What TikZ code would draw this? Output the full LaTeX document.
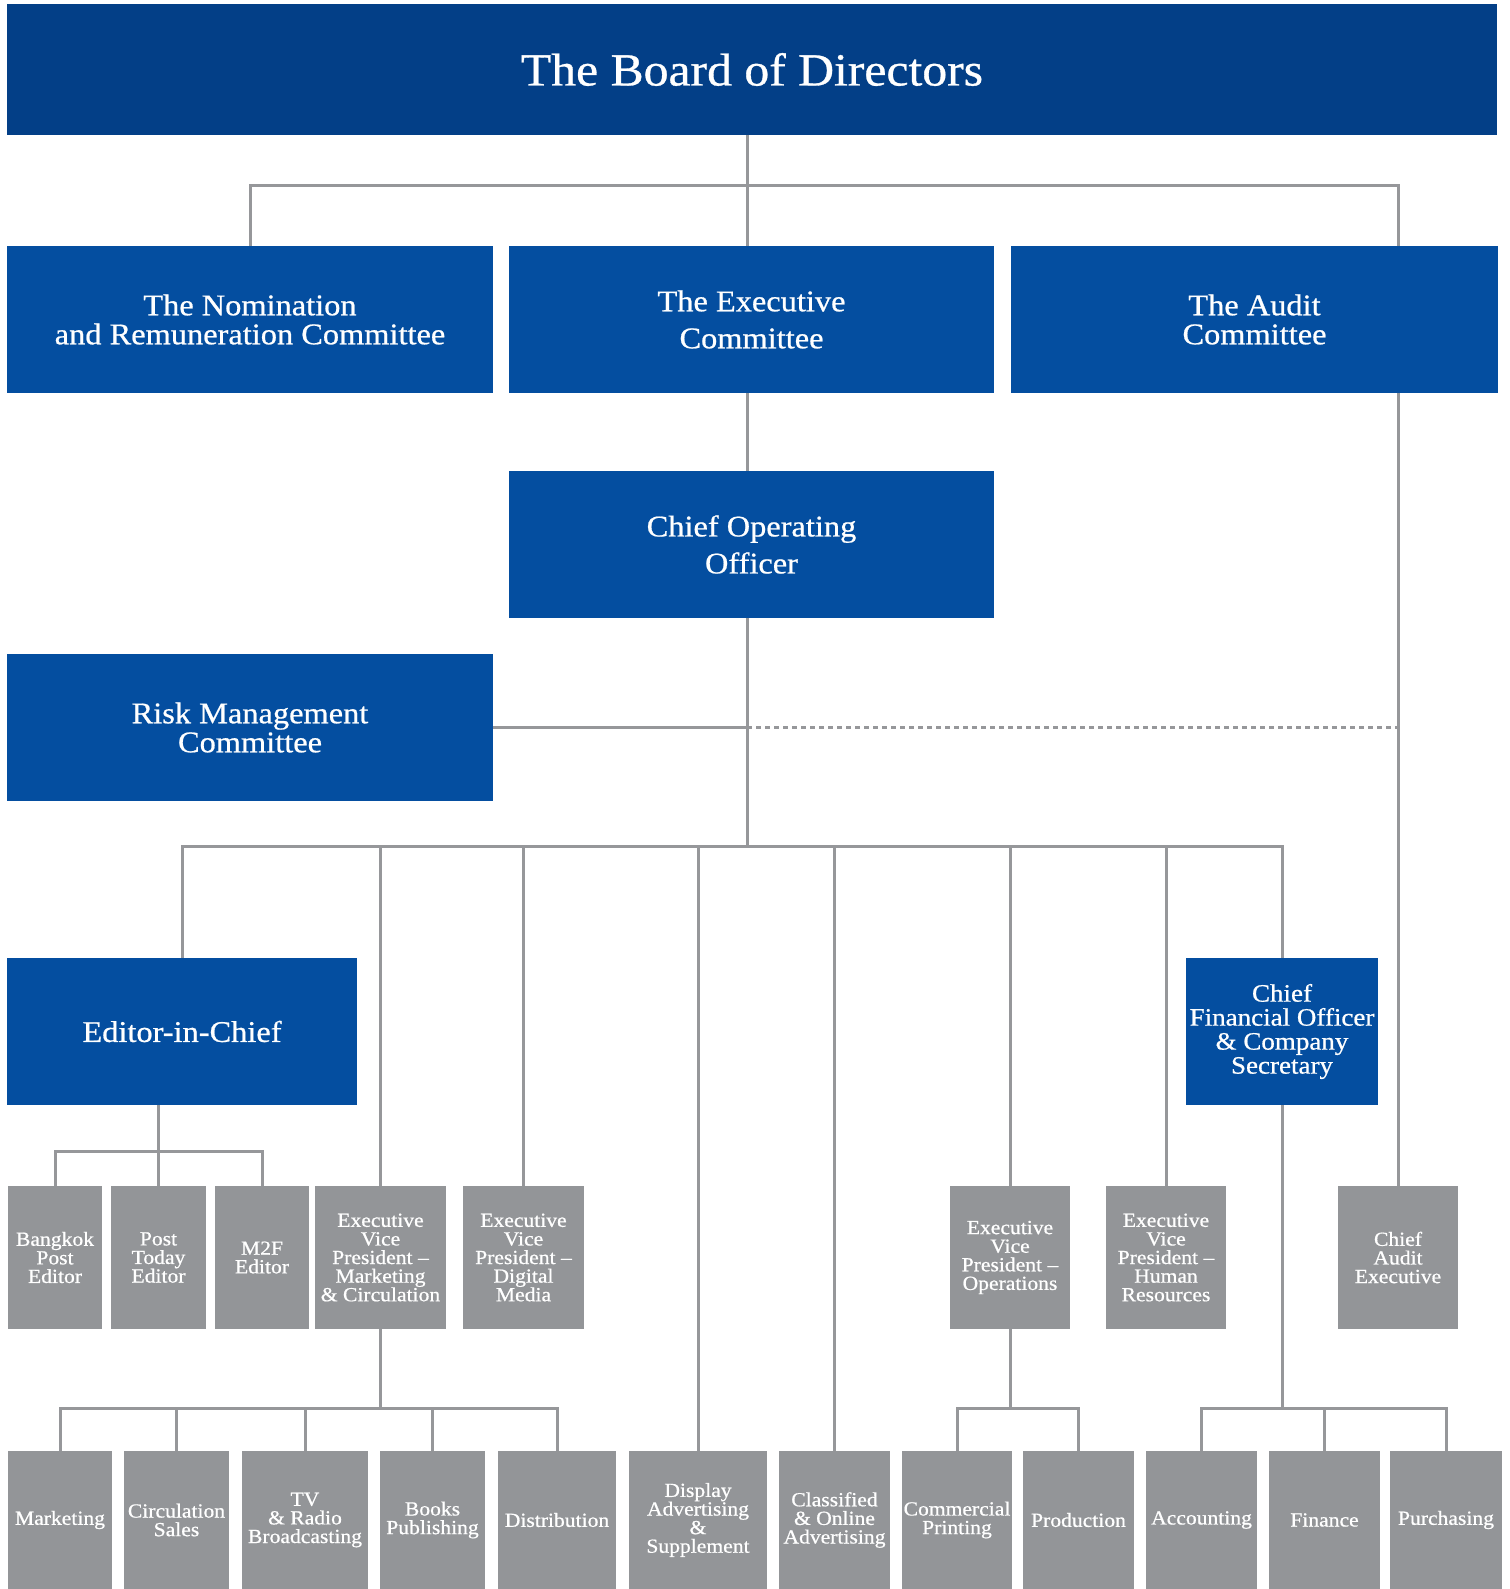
\documentclass[tikz,border=0pt]{standalone}
\usepackage{fontspec}
\setmainfont{Liberation Serif}[FakeStretch=1.08,FakeBold=0.7]
\definecolor{boardblue}{HTML}{033F87}
\definecolor{boxblue}{HTML}{044EA0}
\definecolor{boxgray}{HTML}{939598}
\definecolor{linegray}{HTML}{96979A}

\begin{document}
\begin{tikzpicture}[x=1pt,y=-1pt,
  bluebox/.style={fill=boxblue,text=white,align=center,inner sep=0pt,
    minimum height=147pt,font=\fontsize{30}{29}\selectfont},
  graybox/.style={fill=boxgray,text=white,align=center,inner sep=0pt,
    minimum height=143pt,font=\fontsize{20}{18.6}\selectfont},
  lowbox/.style={graybox,minimum height=138pt},
  link/.style={draw=linegray,line width=3pt},
  dottedlink/.style={link,dash pattern=on 5pt off 4pt}]
\useasboundingbox (0,0) rectangle (1509,1589);

% top levels
\node[fill=boardblue,text=white,inner sep=0pt,minimum width=1490pt,minimum height=131pt,
  font=\fontsize{46}{50}\selectfont] (board) at (752,69.5) {The Board of Directors};
\node[bluebox,minimum width=486pt] (nom) at (250,319.5) {The Nomination\\and Remuneration Committee};
\node[bluebox,minimum width=485pt,font=\fontsize{30}{37}\selectfont] (exec) at (751.5,319.5) {The Executive\\Committee};
\node[bluebox,minimum width=487pt] (audit) at (1254.5,319.5) {The Audit\\Committee};
\node[bluebox,minimum width=485pt,font=\fontsize{30}{37}\selectfont] (coo) at (751.5,544.5) {Chief Operating\\Officer};
\node[bluebox,minimum width=486pt] (risk) at (250,727.5) {Risk Management\\Committee};
\node[bluebox,minimum width=350pt] (editor) at (182,1031.5) {Editor-in-Chief};
\node[bluebox,minimum width=192pt,font=\fontsize{25}{24}\selectfont] (cfo) at (1282,1031.5) {Chief\\Financial Officer\\\& Company\\Secretary};

% row of heads
\node[graybox,minimum width=94pt] (bpe) at (55,1257.5) {Bangkok\\Post\\Editor};
\node[graybox,minimum width=95pt] (pte) at (158.5,1257.5) {Post\\Today\\Editor};
\node[graybox,minimum width=94pt] (m2f) at (262,1257.5) {M2F\\Editor};
\node[graybox,minimum width=131pt] (evpmc) at (380.5,1257.5) {Executive\\Vice\\President --\\Marketing\\\& Circulation};
\node[graybox,minimum width=121pt] (evpdm) at (523.5,1257.5) {Executive\\Vice\\President --\\Digital\\Media};
\node[graybox,minimum width=120pt] (evpops) at (1010,1257.5) {Executive\\Vice\\President --\\Operations};
\node[graybox,minimum width=120pt] (evphr) at (1166,1257.5) {Executive\\Vice\\President --\\Human\\Resources};
\node[graybox,minimum width=120pt] (cae) at (1398,1257.5) {Chief\\Audit\\Executive};

% departments
\node[lowbox,minimum width=104pt] (mkt) at (60,1520) {Marketing};
\node[lowbox,minimum width=105pt] (circ) at (176.5,1520) {Circulation\\Sales};
\node[lowbox,minimum width=126pt] (tv) at (305,1520) {TV\\\& Radio\\Broadcasting};
\node[lowbox,minimum width=105pt] (books) at (432.5,1520) {Books\\Publishing};
\node[lowbox,minimum width=118pt] (dist) at (557,1520) {Distribution};
\node[lowbox,minimum width=138pt] (disp) at (698,1520) {Display\\Advertising\\\&\\Supplement};
\node[lowbox,minimum width=111pt] (class) at (834.5,1520) {Classified\\\& Online\\Advertising};
\node[lowbox,minimum width=110pt] (comm) at (957,1520) {Commercial\\Printing};
\node[lowbox,minimum width=111pt] (prod) at (1078.5,1520) {Production};
\node[lowbox,minimum width=111pt] (acct) at (1201.5,1520) {Accounting};
\node[lowbox,minimum width=111pt] (fin) at (1324.5,1520) {Finance};
\node[lowbox,minimum width=112pt] (purch) at (1446,1520) {Purchasing};

\coordinate (trunk) at (747,0);
\coordinate (bus1) at (0,186);
\coordinate (bus2) at (0,846);
\coordinate (bus3) at (0,1151);
\coordinate (bus4) at (0,1408);

% connectors
\draw[link] (board.south -| trunk) -- (exec.north -| trunk);
\draw[link] (nom.north) |- (bus1 -| cae) -- (audit.north -| cae);
\draw[link] (audit.south -| cae) -- (cae.north);
\draw[link] (exec.south -| trunk) -- (coo.north -| trunk);
\draw[link] (coo.south -| trunk) -- (bus2 -| trunk);
\draw[link] (risk.east) -- (risk.east -| trunk);
\draw[dottedlink] (risk.east -| trunk) -- (risk.east -| cae);
\draw[link] (editor.north) |- (bus2 -| cfo) -- (cfo.north);
\foreach \n in {evpmc,evpdm,disp,class,evpops,evphr}
  \draw[link] (bus2 -| \n.north) -- (\n.north);

\draw[link] (editor.south -| pte) -- (pte.north);
\draw[link] (bpe.north) |- (bus3 -| m2f) -- (m2f.north);

\draw[link] (evpmc.south) -- (evpmc.south |- bus4);
\draw[link] (mkt.north) |- (bus4 -| dist) -- (dist.north);
\foreach \n in {circ,tv,books}
  \draw[link] (bus4 -| \n.north) -- (\n.north);

\draw[link] (evpops.south) -- (evpops.south |- bus4);
\draw[link] (comm.north) |- (bus4 -| prod) -- (prod.north);

\draw[link] (cfo.south) -- (cfo.south |- bus4);
\draw[link] (acct.north) |- (bus4 -| purch) -- (purch.north);
\draw[link] (bus4 -| fin.north) -- (fin.north);
\end{tikzpicture}
\end{document}
